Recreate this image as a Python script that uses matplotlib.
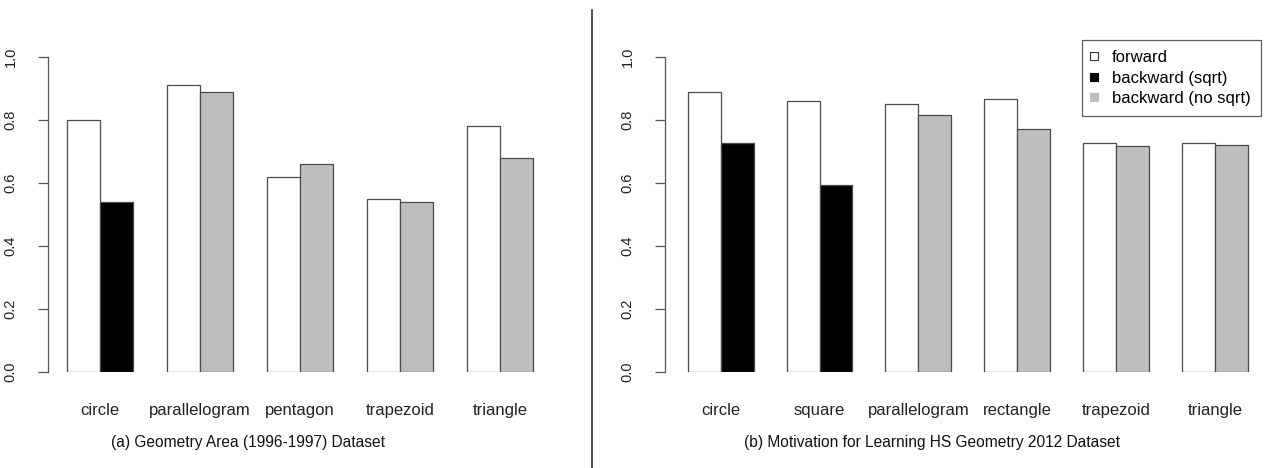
import numpy as np
import matplotlib.pyplot as plt
from matplotlib.lines import Line2D

plt.rcParams['font.family'] = ['Liberation Sans', 'DejaVu Sans']

# (a) Geometry Area (1996-1997)
cats_a = ['circle', 'parallelogram', 'pentagon', 'trapezoid', 'triangle']
fwd_a = [0.80, 0.91, 0.62, 0.55, 0.78]
bwd_a = [0.54, 0.89, 0.66, 0.54, 0.68]
sqrt_a = [True, False, False, False, False]   # backward bar uses sqrt?

# (b) Motivation for Learning HS Geometry 2012
cats_b = ['circle', 'square', 'parallelogram', 'rectangle', 'trapezoid', 'triangle']
fwd_b = [0.89, 0.86, 0.851, 0.866, 0.728, 0.728]
bwd_b = [0.726, 0.594, 0.815, 0.771, 0.718, 0.722]
sqrt_b = [True, True, False, False, False, False]

titles = ['(a) Geometry Area (1996-1997) Dataset',
          '(b) Motivation for Learning HS Geometry 2012 Dataset']
legend_labels = ['forward', 'backward (sqrt)', 'backward (no sqrt)']

W, H = 1264, 468
fig = plt.figure(figsize=(W / 100, H / 100), dpi=100)

GRAY = '#bebebe'
EDGE = '#4a4a4a'
AXC = '#555555'


def panel(px_left, px_unit, xlim, cats, fwd, bwd, use_sqrt, title, title_x):
    x0, x1 = xlim
    left = px_left / W
    width = (x1 - x0) * px_unit / W
    ax = fig.add_axes([left, (H - 372) / H, width, 315 / H])
    n = len(cats)
    pos = 1 + 3 * np.arange(n)
    ax.bar(pos, fwd, width=1, align='edge', color='white', edgecolor=EDGE, linewidth=0.9)
    cols = ['black' if s else GRAY for s in use_sqrt]
    ax.bar(pos + 1, bwd, width=1, align='edge', color=cols, edgecolor=EDGE, linewidth=0.9)
    ax.set_xlim(x0, x1)
    ax.set_ylim(0, 1)
    for s in ['top', 'right', 'bottom']:
        ax.spines[s].set_visible(False)
    ax.spines['left'].set_color(AXC)
    ax.spines['left'].set_linewidth(0.9)
    ax.set_yticks([0, 0.2, 0.4, 0.6, 0.8, 1.0])
    ax.set_yticklabels(['0.0', '0.2', '0.4', '0.6', '0.8', '1.0'], rotation=90, va='center',
                       fontsize=10.5, color='#222222')
    ax.tick_params(axis='y', length=7, width=0.9, color=AXC, pad=15)
    ax.set_xticks(pos + 1)
    ax.set_xticklabels(cats, fontsize=12, color='#222222')
    ax.tick_params(axis='x', length=0, pad=22)
    fig.text(title_x / W, 1 - 443 / H, title, ha='center', va='center', fontsize=11.2,
             color='#111111')
    return ax


panel(48, 33.33, (0.44, 15.6), cats_a, fwd_a, bwd_a, sqrt_a, titles[0], 248)
axb = panel(665, 32.95, (0.311, 18.3), cats_b, fwd_b, bwd_b, sqrt_b, titles[1], 932)

handles = [Line2D([], [], ls='none', marker='s', markersize=6, markerfacecolor=c,
                  markeredgecolor=e, markeredgewidth=0.8)
           for c, e in [('white', '#333333'), ('black', 'black'), (GRAY, GRAY)]]
leg = axb.legend(handles, legend_labels, loc='upper right',
                 bbox_to_anchor=(1261 / W, 1 - 40 / H), bbox_transform=fig.transFigure,
                 fontsize=12, frameon=True, fancybox=False, handlelength=0.25,
                 handletextpad=0.95, borderpad=0.62, labelspacing=0.32, borderaxespad=0)
leg.get_frame().set_edgecolor('#333333')
leg.get_frame().set_linewidth(0.9)

fig.add_artist(Line2D([592 / W, 592 / W], [0, 1 - 10 / H], transform=fig.transFigure,
                      color='#333333', linewidth=1.2))

fig.savefig('out.png', dpi=100)
